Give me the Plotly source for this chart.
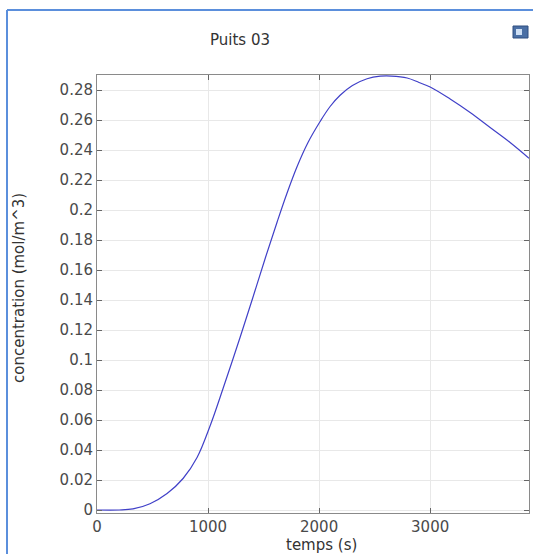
import plotly.graph_objects as go

# Concentration breakthrough at well 03
temps = [0, 200, 324, 477, 631, 775, 901, 1018, 1135, 1288, 1405, 1520,
         1622, 1710, 1802, 1900, 2009, 2099, 2189, 2300, 2432, 2550, 2650,
         2793, 2900, 3000, 3180, 3360, 3540, 3720, 3890]
concentration = [0.0, 0.0, 0.0007, 0.0042, 0.011, 0.021, 0.035, 0.056, 0.081,
                 0.115, 0.142, 0.169, 0.192, 0.211, 0.229, 0.245, 0.259,
                 0.269, 0.2765, 0.283, 0.2875, 0.2892, 0.2893, 0.288, 0.285,
                 0.282, 0.274, 0.265, 0.255, 0.245, 0.2345]

x_ticks = [0, 1000, 2000, 3000]
y_ticks = [0, 0.02, 0.04, 0.06, 0.08, 0.1, 0.12, 0.14, 0.16, 0.18, 0.2,
           0.22, 0.24, 0.26, 0.28]
y_tick_text = ["0", "0.02", "0.04", "0.06", "0.08", "0.1", "0.12", "0.14",
               "0.16", "0.18", "0.2", "0.22", "0.24", "0.26", "0.28"]

W, H = 533, 554
L, R, T, B = 97, 4, 75, 41
PW, PH = W - L - R, H - T - B
FONT = "DejaVu Sans"


def fx(p):
    return (p - L) / PW


def fy(p):
    return (H - B - p) / PH


fig = go.Figure()
fig.add_trace(go.Scatter(
    x=temps, y=concentration, mode="lines",
    line=dict(color="#4040c8", width=1.2, shape="spline", smoothing=1.0),
    hoverinfo="skip", showlegend=False,
))

axis_common = dict(
    showline=True, linecolor="#8a8a8a", linewidth=1, mirror="ticks",
    ticks="inside", ticklen=5, tickcolor="#666666",
    showgrid=True, gridcolor="#e8e8e8", gridwidth=1, zeroline=False,
    tickfont=dict(family=FONT, size=15, color="#4a4a4a"),
)

fig.update_xaxes(range=[0, 3890], tickvals=x_ticks, **axis_common)
fig.update_yaxes(range=[-0.002, 0.29], tickvals=y_ticks,
                 ticktext=y_tick_text, **axis_common)

fig.update_layout(
    width=W, height=H,
    margin=dict(l=L, r=R, t=T, b=B),
    paper_bgcolor="white", plot_bgcolor="white",
    annotations=[
        dict(text="Puits 03", x=fx(240), y=fy(40), xref="paper", yref="paper",
             xanchor="center", yanchor="middle", showarrow=False,
             font=dict(family=FONT, size=15, color="#333333")),
        dict(text="temps (s)", x=fx(321), y=fy(545), xref="paper", yref="paper",
             xanchor="center", yanchor="middle", showarrow=False,
             font=dict(family=FONT, size=15, color="#333333")),
        dict(text="concentration (mol/m^3)", x=fx(19), y=fy(288),
             xref="paper", yref="paper", textangle=-90, showarrow=False,
             xanchor="center", yanchor="middle",
             font=dict(family=FONT, size=15, color="#333333")),
    ],
    shapes=[
        # window frame
        dict(type="line", xref="paper", yref="paper",
             x0=fx(7), x1=fx(540), y0=fy(10), y1=fy(10),
             line=dict(color="#5b8fdc", width=2)),
        dict(type="line", xref="paper", yref="paper",
             x0=fx(7), x1=fx(7), y0=fy(10), y1=fy(560),
             line=dict(color="#5b8fdc", width=2)),
        # toolbar icon
        dict(type="rect", xref="paper", yref="paper",
             x0=fx(513), x1=fx(528), y0=fy(38), y1=fy(26),
             fillcolor="#4a6fa5", line=dict(color="#2f4f80", width=1)),
        dict(type="rect", xref="paper", yref="paper",
             x0=fx(516), x1=fx(522), y0=fy(35), y1=fy(29),
             fillcolor="#cfe0f5", line=dict(width=0)),
    ],
)

fig.write_html("out.html")
